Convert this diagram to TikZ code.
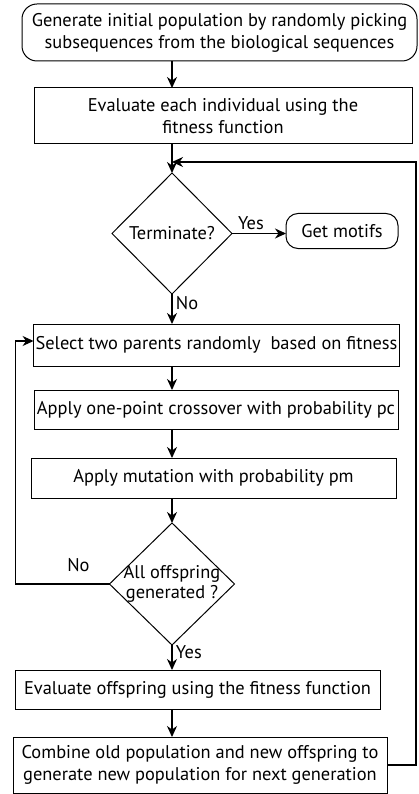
\documentclass[tikz,border=0pt]{standalone}
\usepackage{fontspec}
\setmainfont{PT Sans}
\usetikzlibrary{shapes.geometric, arrows.meta, positioning}

\begin{document}
\begin{tikzpicture}[
    x=1pt, y=1pt,
    node distance=25pt,
    box/.style={rectangle, draw=black, line width=1pt, outer sep=0pt, align=center, inner sep=2pt, font=\fontsize{18.4}{22}\selectfont},
    roundbox/.style={box, rounded corners=15pt},
    decision/.style={diamond, draw=black, line width=1pt, outer sep=0pt, align=center, inner sep=-8pt, font=\fontsize{18.4}{20}\selectfont},
    arrow/.style={-{Stealth[length=11pt, width=10pt, inset=3.5pt]}, line width=1.2pt},
    lbl/.style={font=\fontsize{18.4}{20}\selectfont}
]
\useasboundingbox (0,0) rectangle (418,-794);

% Initialisation
\node[roundbox, minimum width=395pt, minimum height=57pt] (init) at (219.5,-32.5) {Generate initial population by randomly picking\\subsequences from the biological sequences};
\node[box, minimum width=378pt, minimum height=56pt, below=27pt of init, xshift=3.5pt] (evalpop) {Evaluate each individual using the\\fitness function};

% Termination check
\node[decision, minimum width=120pt, minimum height=121pt, below=29pt of evalpop, xshift=-51pt] (term) {Terminate?};
\node[roundbox, rounded corners=12pt, minimum width=112pt, minimum height=35pt, right=54pt of term, yshift=2.5pt] (motifs) {Get motifs};
\coordinate[above=11pt of term.north] (loopin);

% GA loop
\node[box, minimum width=365pt, minimum height=42pt, below=30pt of term, xshift=44.5pt] (select) {Select two parents randomly \ based on fitness};
\node[box, minimum width=364pt, minimum height=39pt, below=24pt of select, xshift=-0.5pt] (cross) {Apply one-point crossover with probability pc};
\node[box, minimum width=365pt, minimum height=40pt, below=29pt of cross, xshift=-2.5pt] (mutate) {Apply mutation with probability pm};
\node[decision, minimum width=125pt, minimum height=122pt, below=25pt of mutate, xshift=-41.5pt] (done) {All offspring\\generated ?};

% Offspring handling
\node[box, minimum width=365pt, minimum height=39pt, below=25pt of done, xshift=25.5pt] (evaloff) {Evaluate offspring using the fitness function};
\node[box, minimum width=374pt, minimum height=56pt, below=28pt of evaloff, xshift=2.5pt] (combine) {Combine old population and new offspring to\\generate new population for next generation};

% Arrows
\draw[arrow] (init.south -| term) -- (evalpop.north -| term);
\draw[arrow] (evalpop.south -| term) -- (term.north);
\draw[arrow] (term.east) -- node[lbl, above, pos=0.35] {Yes} (term.east -| motifs.west);
\draw[arrow] (term.south) -- node[lbl, right, pos=0.3] {No} (select.north -| term);
\draw[arrow] (select.south -| term) -- (cross.north -| term);
\draw[arrow] (cross.south -| term) -- (mutate.north -| term);
\draw[arrow] (mutate.south -| term) -- (done.north);
\draw[arrow] (done.west) -- node[lbl, above=8pt, pos=0.33] {No} ++(-94,0) |- ([yshift=4pt]select.west);
\draw[arrow] (done.south) -- node[lbl, right, pos=0.3] {Yes} (evaloff.north -| done);
\draw[arrow] (evaloff.south -| done) -- (combine.north -| done);
\draw[arrow] (combine.east) -- ++(29,0) |- (loopin);

\end{tikzpicture}
\end{document}
